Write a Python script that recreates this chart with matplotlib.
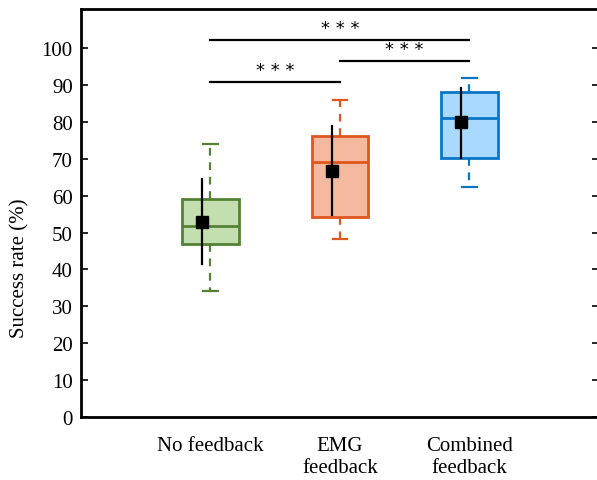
import matplotlib
matplotlib.use("Agg")
import matplotlib.pyplot as plt

plt.rcParams['font.family'] = ['Liberation Serif', 'DejaVu Serif']

categories = ["No feedback", "EMG\nfeedback", "Combined\nfeedback"]
q1 = [46.9, 54.1, 70.1]
med = [51.8, 69.0, 81.0]
q3 = [59.1, 76.1, 88.2]
wlo = [34.1, 48.2, 62.4]
whi = [74.0, 85.9, 91.9]
means = [52.9, 66.8, 79.9]
sd_lo = [41.5, 54.7, 70.1]
sd_hi = [64.5, 78.9, 89.3]
yticks = [0, 10, 20, 30, 40, 50, 60, 70, 80, 90, 100]
# significance brackets: (group a, group b, y level)
sig_pairs = [(0, 2, 102.1), (1, 2, 96.4), (0, 1, 90.7)]
sig_text = "* * *"

edge_colors = ["#548235", "#E0561E", "#0B75C6"]
face_colors = ["#C3DFB0", "#F5B9A0", "#A9D9FF"]

fig = plt.figure(figsize=(5.97, 4.81), dpi=100)
ax = fig.add_axes([81/597, 1-418/481, (599-81)/597, 408/481])

positions = [1, 2, 3]
stats = []
for i in range(3):
    stats.append(dict(med=med[i], q1=q1[i], q3=q3[i], whislo=wlo[i], whishi=whi[i], fliers=[]))

for i in range(3):
    ax.bxp([stats[i]], positions=[positions[i]], widths=0.435, patch_artist=True,
           showfliers=False,
           boxprops=dict(facecolor=face_colors[i], edgecolor=edge_colors[i], linewidth=2.0),
           medianprops=dict(color=edge_colors[i], linewidth=2.0),
           whiskerprops=dict(color=edge_colors[i], linewidth=1.6, linestyle=(0, (3.5, 3))),
           capprops=dict(color=edge_colors[i], linewidth=1.6),
           capwidths=0.115)

off = -0.062
for i in range(3):
    x = positions[i] + off
    ax.plot([x, x], [sd_lo[i], sd_hi[i]], color="black", lw=1.6, zorder=5)
    ax.plot([x], [means[i]], marker="s", color="black", markersize=8.6, zorder=6)

for a, b, y in sig_pairs:
    ax.plot([positions[a], positions[b]], [y, y], color="black", lw=1.6)
    ax.text((positions[a] + positions[b]) / 2, y + 0.9, sig_text, ha="center", va="bottom",
            fontsize=13, family="DejaVu Sans")

ax.set_xlim(0, 4)
ax.set_ylim(0, 110.6)
ax.set_yticks(yticks)
ax.set_yticklabels([str(t) for t in yticks], fontsize=15)
ax.set_xticks(positions)
ax.set_xticklabels(categories, fontsize=15, linespacing=1.15)
ax.tick_params(axis="x", length=0, pad=14)
ax.tick_params(axis="y", direction="in", length=5, width=1.2, right=True, pad=6)
for s in ax.spines.values():
    s.set_linewidth(2.0)
ax.set_ylabel("Success rate (%)", fontsize=15)
ax.yaxis.set_label_coords(-0.099, 0.368)

fig.savefig("out.png", dpi=100)
